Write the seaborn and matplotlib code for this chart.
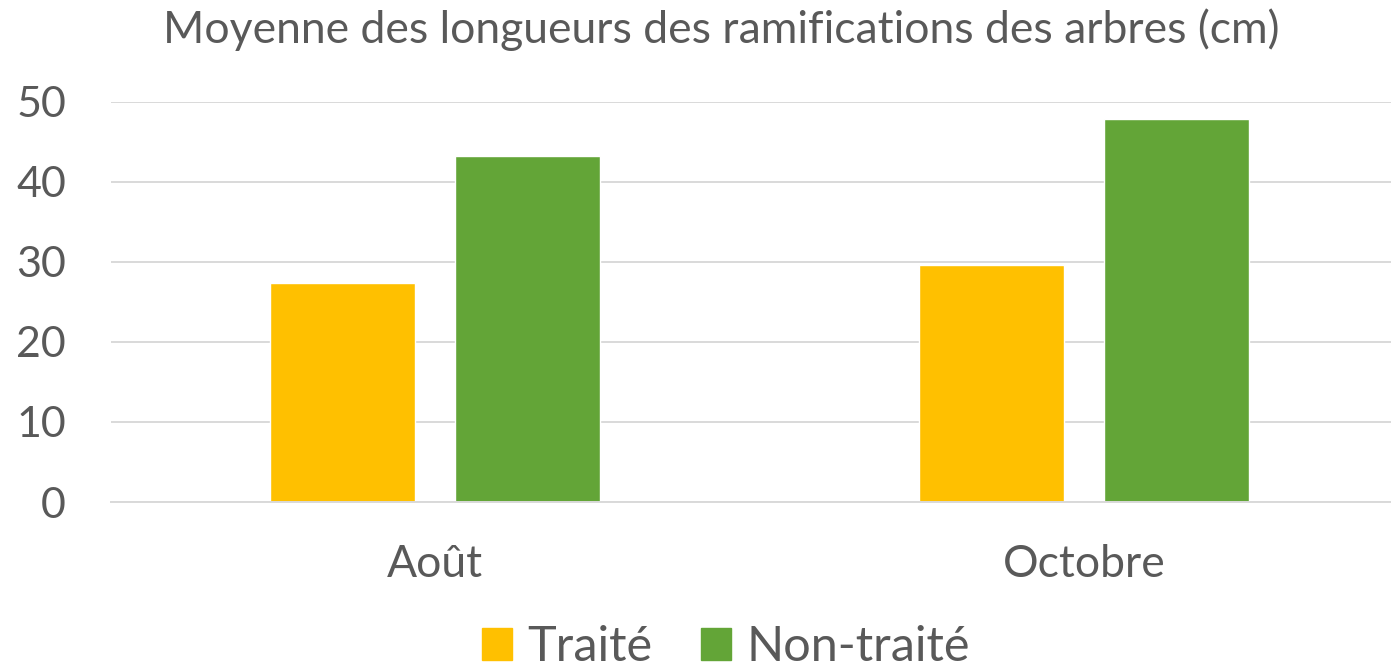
import pandas as pd
import matplotlib
matplotlib.use("Agg")
import matplotlib.pyplot as plt
import seaborn as sns

mois = ["Août", "Octobre"]
traite = [27.3, 29.6]
non_traite = [43.2, 47.9]
series = ["Traité", "Non-traité"]
couleurs = ["#FFC000", "#63A537"]

df = pd.DataFrame({
    "mois": mois * 2,
    "serie": [series[0]] * 2 + [series[1]] * 2,
    "valeur": traite + non_traite,
})

sns.set_style("white")
plt.rcParams["font.family"] = ["Lato", "DejaVu Sans"]
gris = "#595959"

fig = plt.figure(figsize=(13.91, 6.70), dpi=100)
ax = fig.add_axes([110.5 / 1391, 168 / 670, (1391 - 110.5) / 1391, 400.3 / 670])

sns.barplot(data=df, x="mois", y="valeur", hue="serie", palette=couleurs,
            saturation=1, width=0.57, gap=0.216, ax=ax, legend=False)

ax.set_xlim(-0.5, -0.5 + (1391 - 110.5) / 649)
ax.set_ylim(0, 50)
ax.set_yticks([0, 10, 20, 30, 40, 50])
ax.yaxis.grid(True, color="#d9d9d9", linewidth=1.4)
ax.set_axisbelow(True)
for s in ["top", "right", "left"]:
    ax.spines[s].set_visible(False)
ax.spines["bottom"].set_color("#d9d9d9")
ax.spines["bottom"].set_linewidth(1.4)
ax.set_xlabel("")
ax.set_ylabel("")
ax.tick_params(axis="y", length=0, pad=32, labelsize=31, labelcolor=gris)
ax.tick_params(axis="x", length=0, pad=30, labelsize=32, labelcolor=gris)

fig.text(721 / 1391, 1 - 30 / 670, "Moyenne des longueurs des ramifications des arbres (cm)",
         ha="center", va="center", fontsize=32, color=gris)

handles = [plt.Rectangle((0, 0), 1, 1, color=c) for c in couleurs]
fig.legend(handles, series, loc="center", bbox_to_anchor=(726 / 1391, 1 - 647 / 670),
           ncol=2, frameon=False, fontsize=35, labelcolor=gris,
           handlelength=0.62, handleheight=0.62, handletextpad=0.32, columnspacing=1.0)

fig.savefig("out.png", dpi=100)
